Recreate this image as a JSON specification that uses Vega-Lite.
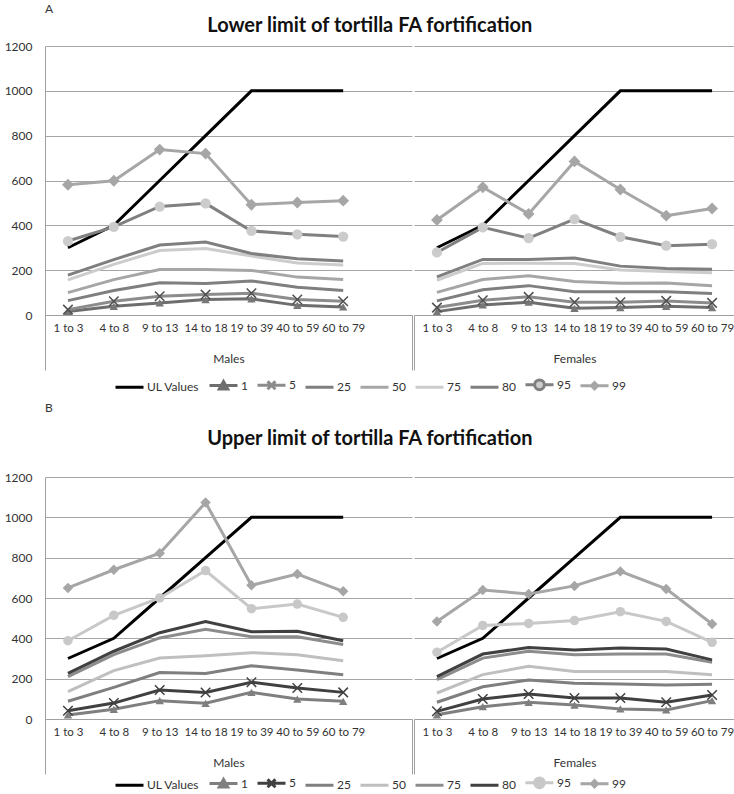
{
  "$schema": "https://vega.github.io/schema/vega-lite/v6.json",
  "padding": {"left": 4, "top": 3, "right": 0, "bottom": 0},
  "config": {
    "view": {"stroke": null},
    "font": "Lato",
    "axis": {"labelFont": "Lato", "titleFont": "Lato", "labelColor": "#333333", "titleColor": "#333333"},
    "legend": {"labelFont": "Lato", "layout": {"bottom": {"anchor": "middle"}}}
  },
  "datasets": {
    "A": [
      {"sex": "Males", "age": "1 to 3", "UL Values": 300, "1": 16, "5": 24, "25": 64, "50": 100, "75": 157, "80": 178, "95": 330, "99": 581},
      {"sex": "Males", "age": "4 to 8", "UL Values": 400, "1": 39, "5": 61, "25": 109, "50": 158, "75": 226, "80": 247, "95": 393, "99": 599},
      {"sex": "Males", "age": "9 to 13", "UL Values": 600, "1": 54, "5": 84, "25": 144, "50": 203, "75": 288, "80": 312, "95": 484, "99": 738},
      {"sex": "Males", "age": "14 to 18", "UL Values": 800, "1": 69, "5": 91, "25": 141, "50": 203, "75": 297, "80": 326, "95": 498, "99": 720},
      {"sex": "Males", "age": "19 to 39", "UL Values": 1000, "1": 72, "5": 97, "25": 152, "50": 199, "75": 263, "80": 274, "95": 375, "99": 492},
      {"sex": "Males", "age": "40 to 59", "UL Values": 1000, "1": 43, "5": 69, "25": 124, "50": 169, "75": 232, "80": 251, "95": 360, "99": 502},
      {"sex": "Males", "age": "60 to 79", "UL Values": 1000, "1": 36, "5": 61, "25": 109, "50": 158, "75": 223, "80": 241, "95": 350, "99": 510},
      {"sex": "Females", "age": "1 to 3", "UL Values": 300, "1": 15, "5": 33, "25": 63, "50": 101, "75": 155, "80": 170, "95": 279, "99": 424},
      {"sex": "Females", "age": "4 to 8", "UL Values": 400, "1": 45, "5": 66, "25": 113, "50": 158, "75": 230, "80": 248, "95": 391, "99": 570},
      {"sex": "Females", "age": "9 to 13", "UL Values": 600, "1": 57, "5": 81, "25": 131, "50": 175, "75": 231, "80": 248, "95": 343, "99": 451},
      {"sex": "Females", "age": "14 to 18", "UL Values": 800, "1": 30, "5": 57, "25": 104, "50": 149, "75": 230, "80": 254, "95": 428, "99": 685},
      {"sex": "Females", "age": "19 to 39", "UL Values": 1000, "1": 33, "5": 57, "25": 104, "50": 142, "75": 201, "80": 218, "95": 349, "99": 560},
      {"sex": "Females", "age": "40 to 59", "UL Values": 1000, "1": 39, "5": 63, "25": 104, "50": 143, "75": 194, "80": 207, "95": 309, "99": 443},
      {"sex": "Females", "age": "60 to 79", "UL Values": 1000, "1": 33, "5": 54, "25": 96, "50": 131, "75": 188, "80": 204, "95": 316, "99": 475}
    ],
    "B": [
      {"sex": "Males", "age": "1 to 3", "UL Values": 300, "1": 20, "5": 41, "25": 88, "50": 136, "75": 210, "80": 226, "95": 388, "99": 650},
      {"sex": "Males", "age": "4 to 8", "UL Values": 400, "1": 48, "5": 79, "25": 157, "50": 240, "75": 319, "80": 336, "95": 514, "99": 740},
      {"sex": "Males", "age": "9 to 13", "UL Values": 600, "1": 91, "5": 144, "25": 230, "50": 302, "75": 402, "80": 428, "95": 600, "99": 822},
      {"sex": "Males", "age": "14 to 18", "UL Values": 800, "1": 78, "5": 131, "25": 226, "50": 314, "75": 445, "80": 483, "95": 736, "99": 1073},
      {"sex": "Males", "age": "19 to 39", "UL Values": 1000, "1": 132, "5": 182, "25": 264, "50": 329, "75": 408, "80": 433, "95": 547, "99": 663},
      {"sex": "Males", "age": "40 to 59", "UL Values": 1000, "1": 99, "5": 154, "25": 243, "50": 319, "75": 408, "80": 435, "95": 570, "99": 719},
      {"sex": "Males", "age": "60 to 79", "UL Values": 1000, "1": 88, "5": 132, "25": 220, "50": 289, "75": 369, "80": 388, "95": 504, "99": 633},
      {"sex": "Females", "age": "1 to 3", "UL Values": 300, "1": 21, "5": 38, "25": 83, "50": 129, "75": 195, "80": 210, "95": 331, "99": 484},
      {"sex": "Females", "age": "4 to 8", "UL Values": 400, "1": 61, "5": 99, "25": 160, "50": 220, "75": 302, "80": 322, "95": 464, "99": 640},
      {"sex": "Females", "age": "9 to 13", "UL Values": 600, "1": 83, "5": 124, "25": 193, "50": 261, "75": 336, "80": 355, "95": 474, "99": 620},
      {"sex": "Females", "age": "14 to 18", "UL Values": 800, "1": 69, "5": 104, "25": 177, "50": 236, "75": 319, "80": 342, "95": 488, "99": 660},
      {"sex": "Females", "age": "19 to 39", "UL Values": 1000, "1": 50, "5": 104, "25": 174, "50": 236, "75": 322, "80": 352, "95": 532, "99": 732},
      {"sex": "Females", "age": "40 to 59", "UL Values": 1000, "1": 45, "5": 83, "25": 169, "50": 236, "75": 322, "80": 347, "95": 484, "99": 645},
      {"sex": "Females", "age": "60 to 79", "UL Values": 1000, "1": 91, "5": 119, "25": 172, "50": 220, "75": 281, "80": 293, "95": 380, "99": 471}
    ]
  },
  "spacing": 6,
  "resolve": {"scale": {"stroke": "independent", "fill": "independent", "shape": "independent", "size": "independent"}, "legend": {"stroke": "independent"}},
  "vconcat": [
    {
      "title": {"text": "A", "anchor": "start", "frame": "group", "fontSize": 12, "fontWeight": "normal", "font": "Lato", "color": "#333333", "offset": 0},
      "vconcat": [
        {
          "title": {"text": "Lower limit of tortilla FA fortification", "anchor": "middle", "frame": "bounds", "fontSize": 20, "fontWeight": "bold", "font": "Lato", "color": "#111111", "offset": 4},
          "spacing": 0,
          "resolve": {"scale": {"stroke": "shared", "fill": "shared", "shape": "shared", "size": "shared"}},
          "hconcat": [
            {
              "width": 367, "height": 269,
              "data": {"name": "A"},
              "transform": [{"filter": "datum.sex == 'Males'"}, {"fold": ["UL Values", "1", "5", "25", "50", "75", "80", "95", "99"], "as": ["series", "value"]}],
              "encoding": {
                "x": {"field": "age", "type": "ordinal", "sort": null,
                  "scale": {"type": "band", "domain": ["1 to 3", "4 to 8", "9 to 13", "14 to 18", "19 to 39", "40 to 59", "60 to 79", ""], "paddingInner": 0, "paddingOuter": 0},
                  "axis": {"title": "Males", "titleFontWeight": "normal", "titleFontSize": 12, "titleY": 43, "titleBaseline": "middle", "labelAngle": 0, "labelFontSize": 11.5, "labelPadding": -48, "labelOverlap": false, "domainColor": "#a0a0a0", "tickBand": "extent", "tickSize": 55, "tickColor": "#a0a0a0", "tickOpacity": {"condition": {"test": "datum.value === '' || datum.extra", "value": 1}, "value": 0}}},
                "y": {"field": "value", "type": "quantitative", "scale": {"domain": [0, 1200]},
                  "axis": {"title": null, "format": "d", "values": [0, 200, 400, 600, 800, 1000, 1200], "grid": true, "gridColor": "#a6a6a6", "ticks": false, "domain": true, "domainColor": "#a0a0a0", "labelFontSize": 12, "labelPadding": 13}}
              },
              "layer": [
                {"mark": {"type": "line", "strokeWidth": 3},
                  "encoding": {"stroke": {"field": "series", "type": "nominal",
                    "scale": {"domain": ["UL Values", "1", "5", "25", "50", "75", "80", "95", "99"], "range": ["#000000", "#6e6e6e", "#8c8c8c", "#7f7f7f", "#a6a6a6", "#cccccc", "#7f7f7f", "#808080", "#a6a6a6"]},
                    "legend": {"orient": "bottom", "direction": "horizontal", "title": null, "symbolSize": 784, "symbolStrokeWidth": 3, "labelFontSize": 12, "labelColor": "#333333", "labelOffset": 2, "columnPadding": 3, "offset": -2,
                      "encode": {"symbols": {"update": {
                        "shape": {"signal": "datum.value === '1' ? 'M-1,0H1M-0.3,0.25L0,-0.28L0.3,0.25Z' : datum.value === '5' ? 'M-1,0H1M-0.28,-0.28L0.28,0.28M-0.28,0.28L0.28,-0.28' : datum.value === '95' ? 'M-1,0H-0.35M0.35,0H1M-0.35,0A0.35,0.35 0 1,0 0.35,0A0.35,0.35 0 1,0 -0.35,0Z' : datum.value === '99' ? 'M-1,0H1M0,-0.22L0.22,0L0,0.22L-0.22,0Z' : 'M-1,0H1'"},
                        "fill": {"signal": "datum.value === '1' ? '#777777' : datum.value === '95' ? '#cccccc' : datum.value === '99' ? '#a6a6a6' : 'transparent'"}
                      }}}}}}},
                {"transform": [{"filter": "datum.series == '1' || datum.series == '95' || datum.series == '99'"}],
                  "mark": {"type": "point", "filled": true, "opacity": 1},
                  "encoding": {
                    "shape": {"field": "series", "type": "nominal", "scale": {"domain": ["1", "95", "99"], "range": ["triangle-up", "circle", "diamond"]}, "legend": null},
                    "fill": {"field": "series", "type": "nominal", "scale": {"domain": ["1", "95", "99"], "range": ["#777777", "#cccccc", "#a6a6a6"]}, "legend": null},
                    "size": {"field": "series", "type": "nominal", "scale": {"domain": ["1", "95", "99"], "range": [70, 140, 35]}, "legend": null}
                  }},
                {"transform": [{"filter": "datum.series == '5'"}],
                  "mark": {"type": "point", "shape": "M-1,-1L1,1M-1,1L1,-1", "size": 90, "strokeWidth": 1.5, "filled": false, "color": "#505050", "opacity": 1}}
              ]
            },
            {
              "width": 321, "height": 269,
              "data": {"name": "A"},
              "transform": [{"filter": "datum.sex == 'Females'"}, {"fold": ["UL Values", "1", "5", "25", "50", "75", "80", "95", "99"], "as": ["series", "value"]}],
              "encoding": {
                "x": {"field": "age", "type": "ordinal", "sort": null,
                  "scale": {"type": "band", "domain": ["1 to 3", "4 to 8", "9 to 13", "14 to 18", "19 to 39", "40 to 59", "60 to 79"], "paddingInner": 0, "paddingOuter": 0},
                  "axis": {"title": "Females", "titleFontWeight": "normal", "titleFontSize": 12, "titleY": 43, "titleBaseline": "middle", "labelAngle": 0, "labelFontSize": 11.5, "labelPadding": -48, "labelOverlap": false, "domainColor": "#a0a0a0", "tickBand": "extent", "tickSize": 55, "tickColor": "#a0a0a0", "tickOpacity": {"condition": {"test": "datum.value === '60 to 79' || datum.extra", "value": 1}, "value": 0}}},
                "y": {"field": "value", "type": "quantitative", "scale": {"domain": [0, 1200]},
                  "axis": {"title": null, "values": [0, 200, 400, 600, 800, 1000, 1200], "grid": true, "gridColor": "#a6a6a6", "ticks": false, "domain": false, "labels": false}}
              },
              "layer": [
                {"mark": {"type": "line", "strokeWidth": 3},
                  "encoding": {"stroke": {"field": "series", "type": "nominal",
                    "scale": {"domain": ["UL Values", "1", "5", "25", "50", "75", "80", "95", "99"], "range": ["#000000", "#6e6e6e", "#8c8c8c", "#7f7f7f", "#a6a6a6", "#cccccc", "#7f7f7f", "#808080", "#a6a6a6"]},
                    "legend": {"orient": "bottom", "direction": "horizontal", "title": null, "symbolSize": 784, "symbolStrokeWidth": 3, "labelFontSize": 12, "labelColor": "#333333", "labelOffset": 2, "columnPadding": 3, "offset": -2,
                      "encode": {"symbols": {"update": {
                        "shape": {"signal": "datum.value === '1' ? 'M-1,0H1M-0.3,0.25L0,-0.28L0.3,0.25Z' : datum.value === '5' ? 'M-1,0H1M-0.28,-0.28L0.28,0.28M-0.28,0.28L0.28,-0.28' : datum.value === '95' ? 'M-1,0H-0.35M0.35,0H1M-0.35,0A0.35,0.35 0 1,0 0.35,0A0.35,0.35 0 1,0 -0.35,0Z' : datum.value === '99' ? 'M-1,0H1M0,-0.22L0.22,0L0,0.22L-0.22,0Z' : 'M-1,0H1'"},
                        "fill": {"signal": "datum.value === '1' ? '#777777' : datum.value === '95' ? '#cccccc' : datum.value === '99' ? '#a6a6a6' : 'transparent'"}
                      }}}}}}},
                {"transform": [{"filter": "datum.series == '1' || datum.series == '95' || datum.series == '99'"}],
                  "mark": {"type": "point", "filled": true, "opacity": 1},
                  "encoding": {
                    "shape": {"field": "series", "type": "nominal", "scale": {"domain": ["1", "95", "99"], "range": ["triangle-up", "circle", "diamond"]}, "legend": null},
                    "fill": {"field": "series", "type": "nominal", "scale": {"domain": ["1", "95", "99"], "range": ["#777777", "#cccccc", "#a6a6a6"]}, "legend": null},
                    "size": {"field": "series", "type": "nominal", "scale": {"domain": ["1", "95", "99"], "range": [70, 140, 35]}, "legend": null}
                  }},
                {"transform": [{"filter": "datum.series == '5'"}],
                  "mark": {"type": "point", "shape": "M-1,-1L1,1M-1,1L1,-1", "size": 90, "strokeWidth": 1.5, "filled": false, "color": "#505050", "opacity": 1}}
              ]
            }
          ]
        }
      ]
    },
    {
      "title": {"text": "B", "anchor": "start", "frame": "group", "fontSize": 12, "fontWeight": "normal", "font": "Lato", "color": "#333333", "offset": 14},
      "vconcat": [
        {
          "title": {"text": "Upper limit of tortilla FA fortification", "anchor": "middle", "frame": "bounds", "fontSize": 20, "fontWeight": "bold", "font": "Lato", "color": "#111111", "offset": 22},
          "spacing": 0,
          "resolve": {"scale": {"stroke": "shared", "fill": "shared", "shape": "shared", "size": "shared"}},
          "hconcat": [
            {
              "width": 367, "height": 242,
              "data": {"name": "B"},
              "transform": [{"filter": "datum.sex == 'Males'"}, {"fold": ["UL Values", "1", "5", "25", "50", "75", "80", "95", "99"], "as": ["series", "value"]}],
              "encoding": {
                "x": {"field": "age", "type": "ordinal", "sort": null,
                  "scale": {"type": "band", "domain": ["1 to 3", "4 to 8", "9 to 13", "14 to 18", "19 to 39", "40 to 59", "60 to 79", ""], "paddingInner": 0, "paddingOuter": 0},
                  "axis": {"title": "Males", "titleFontWeight": "normal", "titleFontSize": 12, "titleY": 43, "titleBaseline": "middle", "labelAngle": 0, "labelFontSize": 11.5, "labelPadding": -48, "labelOverlap": false, "domainColor": "#a0a0a0", "tickBand": "extent", "tickSize": 55, "tickColor": "#a0a0a0", "tickOpacity": {"condition": {"test": "datum.value === '' || datum.extra", "value": 1}, "value": 0}}},
                "y": {"field": "value", "type": "quantitative", "scale": {"domain": [0, 1200]},
                  "axis": {"title": null, "format": "d", "values": [0, 200, 400, 600, 800, 1000, 1200], "grid": true, "gridColor": "#a6a6a6", "ticks": false, "domain": true, "domainColor": "#a0a0a0", "labelFontSize": 12, "labelPadding": 13}}
              },
              "layer": [
                {"mark": {"type": "line", "strokeWidth": 3},
                  "encoding": {"stroke": {"field": "series", "type": "nominal",
                    "scale": {"domain": ["UL Values", "1", "5", "25", "50", "75", "80", "95", "99"], "range": ["#000000", "#7f7f7f", "#404040", "#7f7f7f", "#bfbfbf", "#8c8c8c", "#404040", "#c8c8c8", "#a6a6a6"]},
                    "legend": {"orient": "bottom", "direction": "horizontal", "title": null, "symbolSize": 784, "symbolStrokeWidth": 3, "labelFontSize": 12, "labelColor": "#333333", "labelOffset": 2, "columnPadding": 3, "offset": -8,
                      "encode": {"symbols": {"update": {
                        "shape": {"signal": "datum.value === '1' ? 'M-1,0H1M-0.3,0.25L0,-0.28L0.3,0.25Z' : datum.value === '5' ? 'M-1,0H1M-0.28,-0.28L0.28,0.28M-0.28,0.28L0.28,-0.28' : datum.value === '95' ? 'M-1,0H-0.35M0.35,0H1M-0.35,0A0.35,0.35 0 1,0 0.35,0A0.35,0.35 0 1,0 -0.35,0Z' : datum.value === '99' ? 'M-1,0H1M0,-0.22L0.22,0L0,0.22L-0.22,0Z' : 'M-1,0H1'"},
                        "fill": {"signal": "datum.value === '1' ? '#7f7f7f' : datum.value === '95' ? '#c8c8c8' : datum.value === '99' ? '#a6a6a6' : 'transparent'"}
                      }}}}}}},
                {"transform": [{"filter": "datum.series == '1' || datum.series == '95' || datum.series == '99'"}],
                  "mark": {"type": "point", "filled": true, "opacity": 1},
                  "encoding": {
                    "shape": {"field": "series", "type": "nominal", "scale": {"domain": ["1", "95", "99"], "range": ["triangle-up", "circle", "diamond"]}, "legend": null},
                    "fill": {"field": "series", "type": "nominal", "scale": {"domain": ["1", "95", "99"], "range": ["#7f7f7f", "#c8c8c8", "#a6a6a6"]}, "legend": null},
                    "size": {"field": "series", "type": "nominal", "scale": {"domain": ["1", "95", "99"], "range": [70, 110, 40]}, "legend": null}
                  }},
                {"transform": [{"filter": "datum.series == '5'"}],
                  "mark": {"type": "point", "shape": "M-1,-1L1,1M-1,1L1,-1", "size": 90, "strokeWidth": 1.5, "filled": false, "color": "#404040", "opacity": 1}}
              ]
            },
            {
              "width": 321, "height": 242,
              "data": {"name": "B"},
              "transform": [{"filter": "datum.sex == 'Females'"}, {"fold": ["UL Values", "1", "5", "25", "50", "75", "80", "95", "99"], "as": ["series", "value"]}],
              "encoding": {
                "x": {"field": "age", "type": "ordinal", "sort": null,
                  "scale": {"type": "band", "domain": ["1 to 3", "4 to 8", "9 to 13", "14 to 18", "19 to 39", "40 to 59", "60 to 79"], "paddingInner": 0, "paddingOuter": 0},
                  "axis": {"title": "Females", "titleFontWeight": "normal", "titleFontSize": 12, "titleY": 43, "titleBaseline": "middle", "labelAngle": 0, "labelFontSize": 11.5, "labelPadding": -48, "labelOverlap": false, "domainColor": "#a0a0a0", "tickBand": "extent", "tickSize": 55, "tickColor": "#a0a0a0", "tickOpacity": {"condition": {"test": "datum.value === '60 to 79' || datum.extra", "value": 1}, "value": 0}}},
                "y": {"field": "value", "type": "quantitative", "scale": {"domain": [0, 1200]},
                  "axis": {"title": null, "values": [0, 200, 400, 600, 800, 1000, 1200], "grid": true, "gridColor": "#a6a6a6", "ticks": false, "domain": false, "labels": false}}
              },
              "layer": [
                {"mark": {"type": "line", "strokeWidth": 3},
                  "encoding": {"stroke": {"field": "series", "type": "nominal",
                    "scale": {"domain": ["UL Values", "1", "5", "25", "50", "75", "80", "95", "99"], "range": ["#000000", "#7f7f7f", "#404040", "#7f7f7f", "#bfbfbf", "#8c8c8c", "#404040", "#c8c8c8", "#a6a6a6"]},
                    "legend": {"orient": "bottom", "direction": "horizontal", "title": null, "symbolSize": 784, "symbolStrokeWidth": 3, "labelFontSize": 12, "labelColor": "#333333", "labelOffset": 2, "columnPadding": 3, "offset": -8,
                      "encode": {"symbols": {"update": {
                        "shape": {"signal": "datum.value === '1' ? 'M-1,0H1M-0.3,0.25L0,-0.28L0.3,0.25Z' : datum.value === '5' ? 'M-1,0H1M-0.28,-0.28L0.28,0.28M-0.28,0.28L0.28,-0.28' : datum.value === '95' ? 'M-1,0H-0.35M0.35,0H1M-0.35,0A0.35,0.35 0 1,0 0.35,0A0.35,0.35 0 1,0 -0.35,0Z' : datum.value === '99' ? 'M-1,0H1M0,-0.22L0.22,0L0,0.22L-0.22,0Z' : 'M-1,0H1'"},
                        "fill": {"signal": "datum.value === '1' ? '#7f7f7f' : datum.value === '95' ? '#c8c8c8' : datum.value === '99' ? '#a6a6a6' : 'transparent'"}
                      }}}}}}},
                {"transform": [{"filter": "datum.series == '1' || datum.series == '95' || datum.series == '99'"}],
                  "mark": {"type": "point", "filled": true, "opacity": 1},
                  "encoding": {
                    "shape": {"field": "series", "type": "nominal", "scale": {"domain": ["1", "95", "99"], "range": ["triangle-up", "circle", "diamond"]}, "legend": null},
                    "fill": {"field": "series", "type": "nominal", "scale": {"domain": ["1", "95", "99"], "range": ["#7f7f7f", "#c8c8c8", "#a6a6a6"]}, "legend": null},
                    "size": {"field": "series", "type": "nominal", "scale": {"domain": ["1", "95", "99"], "range": [70, 110, 40]}, "legend": null}
                  }},
                {"transform": [{"filter": "datum.series == '5'"}],
                  "mark": {"type": "point", "shape": "M-1,-1L1,1M-1,1L1,-1", "size": 90, "strokeWidth": 1.5, "filled": false, "color": "#404040", "opacity": 1}}
              ]
            }
          ]
        }
      ]
    }
  ]
}
